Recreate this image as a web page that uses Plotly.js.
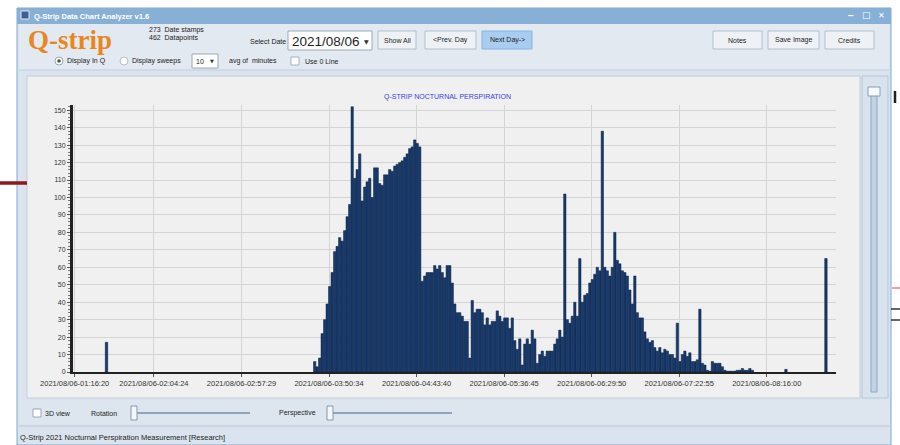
<!DOCTYPE html>
<html><head><meta charset="utf-8">
<script src="https://cdn.plot.ly/plotly-3.0.1.min.js"></script>
<style>html,body{margin:0;padding:0;background:#fff;overflow:hidden}#chart{width:900px;height:445px}</style>
</head><body><div id="chart"></div>
<script>
// ---------------- DATA ----------------
const chartTitle = 'Q-STRIP NOCTURNAL PERSPIRATION';
const seriesStart = '2021-08-06 03:41:53';
const sampleSeconds = 91;
const perspiration = [
  6, 3, 8, 22, 30, 39, 49, 57, 69, 72, 77, 75, 81, 89, 96, 152, 111, 116, 125, 98,
  106, 109, 111, 100, 117, 117, 108, 107, 113, 113, 116, 115, 118, 119, 120, 121, 123, 125, 128, 129,
  133, 131, 129,
  52, 55, 57, 57, 57, 61, 59, 61, 57, 54, 61, 61, 51, 39, 34, 34, 32, 29, 29, 8,
  41, 34, 36, 36, 34, 27, 31, 27, 29, 29, 35, 32, 29, 31, 31, 25, 31, 18, 13, 19, 4,
  16, 19, 16, 24, 19, 5, 10, 12, 9, 12, 12, 12, 16, 19, 24, 20, 102,
  30, 28, 32, 40, 32, 65, 40, 44, 45, 51, 53, 56, 60, 58, 138, 60, 58, 55, 60, 80,
  64, 62, 58, 57, 55, 47, 39, 55, 34, 31, 31, 23, 19, 17, 18, 14, 12, 14, 11, 13,
  12, 10, 10, 8, 28, 6, 10, 12, 9, 11, 6, 6, 7, 36,
  5, 4, 1, 0.5, 6, 5, 5, 5, 3, 1, 0.5, 0.5, 0.5, 0.5, 1, 1, 2, 1, 1, 2, 1
];
const isolatedTimes = ['2021-08-06 01:35:39', '2021-08-06 08:27:39', '2021-08-06 08:51:54'];
const isolatedValues = [17, 1.5, 65];
const axisStart = '2021-08-06 01:15:20';
const axisEnd = '2021-08-06 08:58:00';
const tickTimes = ['2021-08-06 01:16:20', '2021-08-06 02:04:24', '2021-08-06 02:57:29',
  '2021-08-06 03:50:34', '2021-08-06 04:43:40', '2021-08-06 05:36:45', '2021-08-06 06:29:50',
  '2021-08-06 07:22:55', '2021-08-06 08:16:00'];
const tickLabels = ['2021/08/06-01:16:20', '2021/08/06-02:04:24', '2021/08/06-02:57:29',
  '2021/08/06-03:50:34', '2021/08/06-04:43:40', '2021/08/06-05:36:45', '2021/08/06-06:29:50',
  '2021/08/06-07:22:55', '2021/08/06-08:16:00'];
const yTicks = [0, 10, 20, 30, 40, 50, 60, 70, 80, 90, 100, 110, 120, 130, 140, 150];

// ---------------- BUILD ----------------
const ms = s => Date.parse(s.replace(' ', 'T') + 'Z');
const t0 = ms(seriesStart);
const seriesX = perspiration.map((v, i) => t0 + i * sampleSeconds * 1000);

const barColor = '#17396c', barEdge = '#0c2247';
const traces = [
  {type: 'bar', x: seriesX, y: perspiration, width: 86000,
   marker: {color: barColor, line: {color: barEdge, width: 0.5}}, hoverinfo: 'skip'},
  {type: 'bar', x: isolatedTimes.map(ms), y: isolatedValues, width: 86000,
   marker: {color: barColor, line: {color: barEdge, width: 0.6}}, hoverinfo: 'skip'}
];

const W = 900, H = 445, M = {l: 73, r: 64, t: 105, b: 73};
const PW = W - M.l - M.r, PH = H - M.t - M.b;
const px = x => (x - M.l) / PW;
const py = y => (H - M.b - y) / PH;
const shapes = [];
function rect(x0, y0, x1, y1, fill, lc, lw, layer) {
  shapes.push({type: 'rect', xref: 'paper', yref: 'paper', x0: px(x0), x1: px(x1), y0: py(y1), y1: py(y0),
    fillcolor: fill, line: {color: lc || fill, width: lc ? (lw || 1) : 0}, layer: layer || 'below'});
}
function circ(cx, cy, r, fill, lc) {
  shapes.push({type: 'circle', xref: 'paper', yref: 'paper', x0: px(cx - r), x1: px(cx + r), y0: py(cy + r), y1: py(cy - r),
    fillcolor: fill, line: {color: lc || fill, width: lc ? 1 : 0}, layer: 'below'});
}
function line(x0, y0, x1, y1, c, w, layer) {
  shapes.push({type: 'line', xref: 'paper', yref: 'paper', x0: px(x0), x1: px(x1), y0: py(y0), y1: py(y1),
    line: {color: c, width: w || 1}, layer: layer || 'below'});
}
const ann = [];
const UI = 'Liberation Sans, Arial, sans-serif';
function txt(x, y, s, size, color, anchor, family) {
  ann.push({xref: 'paper', yref: 'paper', x: px(x), y: py(y), text: s, showarrow: false,
    xanchor: anchor || 'left', yanchor: 'middle', borderpad: 0,
    font: {size: size || 7.5, color: color || '#222', family: family || UI}});
}
function button(x0, x1, label, hi) {
  rect(x0, 31, x1, 49, hi ? '#a9cdf1' : '#eef2f7', hi ? '#86b4e2' : '#b4bec9', 1);
  txt((x0 + x1) / 2, 40, label, 7, '#222', 'center');
}

// window
rect(17, 8, 891, 445, '#dbe4ee', '#7fa8d0', 1);
rect(17, 8, 891, 24, '#88b0d7');
rect(21, 11, 29, 19, '#3d5f92', '#dfe8f2', 1);
txt(33, 16, '<b>Q-Strip Data Chart Analyzer v1.6</b>', 7.5, '#ffffff');
txt(851, 15, '<b>−</b>', 10, '#ffffff', 'center');
txt(866, 15, '<b>□</b>', 9, '#ffffff', 'center', 'DejaVu Sans');
txt(881, 15, '<b>✕</b>', 8, '#ffffff', 'center', 'DejaVu Sans');
// toolbar
rect(19, 24, 889, 70, '#e2e9f1');
line(19, 70, 889, 70, '#c2ceda', 1);
txt(27, 40, '<b>Q-strip</b>', 27, '#e9861d', 'left', 'Liberation Serif, serif');
txt(148, 30, '273  Date stamps', 7, '#222');
txt(148, 38, '462  Datapoints', 7, '#222');
txt(249, 41, 'Select Date', 7, '#222');
rect(288, 31, 372, 50, '#ffffff', '#9ba8b6', 1);
txt(291, 41, '2021/08/06', 13.5, '#1e1e1e');
txt(366, 41, '▼', 6, '#333', 'center', 'DejaVu Sans');
button(378, 416, 'Show All');
button(425, 476, '&lt;Prev. Day');
button(482, 532, 'Next Day-&gt;', true);
button(713, 762, 'Notes');
button(768, 819, 'Save Image');
button(825, 874, 'Credits');
circ(59, 61, 4, '#ffffff', '#9aa8b6');
circ(59, 61, 1.8, '#3b5f3b');
txt(66, 61, 'Display In Q', 7, '#222');
circ(124, 61, 4, '#ffffff', '#b4bfca');
txt(131, 61, 'Display sweeps', 7, '#222');
rect(192, 54, 218, 68, '#ffffff', '#9ba8b6', 1);
txt(195, 61, '10', 7, '#222');
txt(212, 61, '▼', 5, '#333', 'center', 'DejaVu Sans');
txt(228, 61, 'avg of  minutes', 7, '#222');
rect(291, 57, 299, 65, '#ffffff', '#a6b3c0', 1);
txt(304, 61, 'Use 0 Line', 7, '#222');
// chart panel
rect(27, 76, 860, 398, '#f0f0f0', '#c3cedb', 1);
rect(862, 76, 888, 398, '#d8e3ee', '#b6c6d6', 1);
rect(871, 90, 877, 392, '#c4d3e3', '#8fa7c0', 1);
rect(868, 87, 880, 96, '#f6f9fc', '#8a9cb1', 1);
// bottom controls
rect(19, 400, 889, 425, '#dde6ef');
rect(33, 409, 41, 417, '#ffffff', '#9aa9b8', 1);
txt(44, 413, '3D view', 7, '#222');
txt(90, 413, 'Rotation', 7, '#222');
line(137, 413, 250, 413, '#8ea5be', 2);
rect(131, 406, 137, 420, '#f4f7fa', '#8596a9', 1);
txt(278, 413, 'Perspective', 7, '#222');
line(333, 413, 452, 413, '#8ea5be', 2);
rect(327, 406, 333, 420, '#f4f7fa', '#8596a9', 1);
line(19, 426, 889, 426, '#b9c6d4', 1);
txt(19, 437, 'Q-Strip 2021 Nocturnal Perspiration Measurement [Research]', 7.5, '#1c1c1c');
// surroundings
line(0, 183, 27, 183, '#8c1a1a', 3.5, 'above');
line(895, 91, 895, 103, '#222222', 2.5, 'above');
line(892, 288, 900, 288, '#e04040', 1, 'above');
line(891, 309, 900, 309, '#333333', 1.5, 'above');
line(891, 320, 900, 320, '#333333', 1.5, 'above');
// chart title
txt(447, 97, chartTitle, 7, '#3b3bef', 'center');

const layout = {
  width: W, height: H, margin: M, showlegend: false, bargap: 0,
  paper_bgcolor: '#ffffff', plot_bgcolor: 'rgba(0,0,0,0)',
  xaxis: {type: 'date', range: [ms(axisStart), ms(axisEnd)], tickmode: 'array',
    tickvals: tickTimes.map(ms), ticktext: tickLabels,
    tickfont: {size: 7.5, color: '#333', family: UI}, tickangle: 0,
    showgrid: true, gridcolor: '#d4d4d4', gridwidth: 1,
    showline: true, linecolor: '#222', linewidth: 2,
    ticks: 'outside', ticklen: 3, tickcolor: '#555', zeroline: false, fixedrange: true},
  yaxis: {range: [0, 153], tickmode: 'array', tickvals: yTicks,
    tickfont: {size: 7, color: '#333', family: UI},
    showgrid: true, gridcolor: '#d4d4d4', gridwidth: 1,
    showline: true, linecolor: '#222', linewidth: 3,
    ticks: 'outside', ticklen: 3, tickcolor: '#555', zeroline: false, fixedrange: true,
    minor: {ticks: 'outside', ticklen: 2, dtick: 2, tickcolor: '#777', showgrid: false}},
  shapes: shapes, annotations: ann
};
Plotly.newPlot('chart', traces, layout, {displayModeBar: false, staticPlot: true});
</script></body></html>
